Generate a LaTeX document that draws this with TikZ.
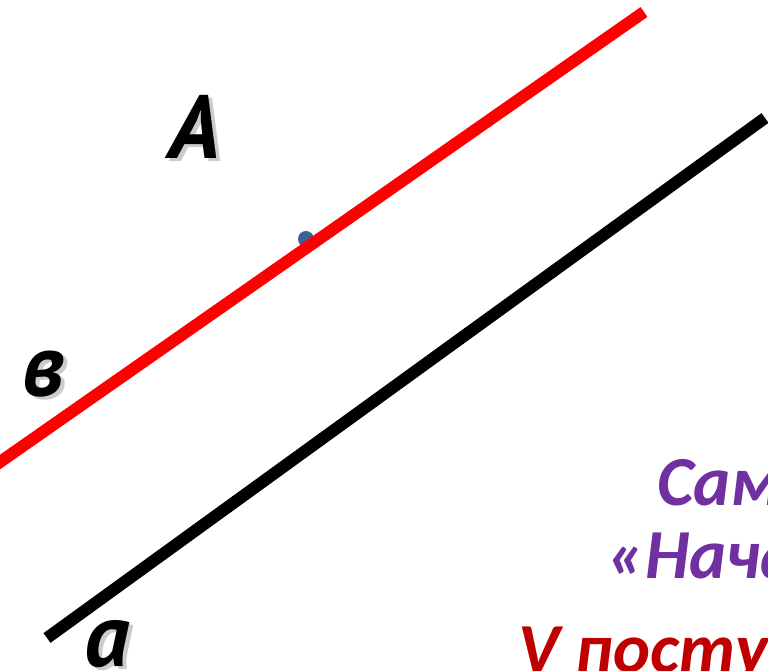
\documentclass[tikz,border=0pt]{standalone}
\usepackage{fontspec}
\setmainfont{Carlito}
\newfontfamily\lblfont{PT Sans}
\usetikzlibrary{positioning}
\definecolor{titlepurple}{HTML}{7030A0}
\definecolor{titlered}{HTML}{C00000}
\definecolor{dotblue}{HTML}{3F6294}

\begin{document}
\begin{tikzpicture}[x=0.02cm,y=-0.02cm,
  linelbl/.style={font=\lblfont\fontsize{51}{56}\selectfont\bfseries\itshape,inner sep=0pt},
  lblshadow/.style={linelbl,text=black!40,opacity=0.5},
  titletxt/.style={font=\fontsize{40}{46}\selectfont\bfseries\itshape,anchor=base west,inner sep=0pt}]
\useasboundingbox (0,0) rectangle (768,671);
\coordinate (b1) at (-10,469); \coordinate (b2) at (644,12);
\coordinate (a1) at (47,638); \coordinate (a2) at (765,118);
\coordinate (P) at (306,239);
\fill[dotblue] (P) circle (8);
\draw[line width=0.24cm,red] (b1)--(b2);
\draw[line width=0.24cm,black] (a1)--(a2);
% labels with a soft shadow
\node[lblshadow] (sA) at (199,130) {A}; \node[linelbl] (lA) at (195,127) {A};
\node[lblshadow] (sb) at (47,377) {в}; \node[linelbl] (lb) at (43,374) {в};
\node[lblshadow] (sa) at (111,647) {а}; \node[linelbl] (la) at (107,644) {а};
% title text cut at the right edge
\node[titletxt,text=titlepurple] (t1) at (657,506) {Сам};
\node[titletxt,text=titlepurple] (t2) at (607,579) {«Нача};
\node[titletxt,text=titlered] (t3) at (518,673) {V посту};
\end{tikzpicture}
\end{document}
